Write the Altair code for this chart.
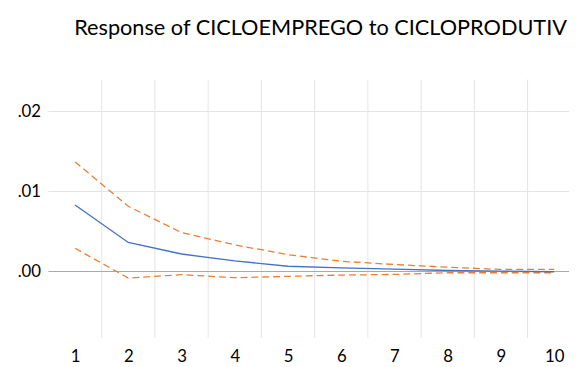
import altair as alt
import pandas as pd

steps = [1, 2, 3, 4, 5, 6, 7, 8, 9, 10]
response = [0.00832, 0.00363, 0.00218, 0.00132, 0.00065, 0.00045, 0.00030, 0.00012, 0.00005, -0.00004]
upper = [0.0137, 0.00815, 0.00486, 0.00333, 0.0021, 0.00128, 0.00087, 0.00054, 0.00025, 0.00025]
lower = [0.0029, -0.00082, -0.0004, -0.00078, -0.00061, -0.00045, -0.00037, -0.00016, -0.00016, -0.00016]
y_ticks = [0.0, 0.01, 0.02]
title_text = "Response of CICLOEMPREGO to CICLOPRODUTIV"

FONT = "Lato"
W, H = 528, 262
xdom = [0.5, 0.5 + W / 54.0]
ydom = [-0.0083, 0.024]

df = pd.DataFrame({"step": steps, "resp": response, "up": upper, "lo": lower})
bounds = pd.DataFrame({"b": [s + 0.5 for s in steps[:-1]]})
ygrid = pd.DataFrame({"v": y_ticks[1:]})
zero = pd.DataFrame({"v": [0.0]})

xscale = alt.Scale(domain=xdom, nice=False, zero=False)
yscale = alt.Scale(domain=ydom, nice=False, zero=False)

xaxis = alt.Axis(values=steps, grid=False, ticks=False, domain=False, labelFont=FONT,
                 labelFontSize=17, labelColor="#000000", labelPadding=11, title=None,
                 labelFlush=False, labelOverlap=False)
yaxis = alt.Axis(values=y_ticks, grid=False, ticks=False, domain=False, labelFont=FONT,
                 labelFontSize=17, labelColor="#000000", labelPadding=8, title=None,
                 labelExpr="substring(format(datum.value, '.2f'), 1)")

vgrid = alt.Chart(bounds).mark_rule(color="#e4e4e4", strokeWidth=1).encode(
    x=alt.X("b:Q", scale=xscale, axis=xaxis),
    y=alt.value(0), y2=alt.value(H))

hgrid = alt.Chart(ygrid).mark_rule(color="#e4e4e4", strokeWidth=1).encode(
    y=alt.Y("v:Q", scale=yscale, axis=yaxis),
    x=alt.value(0), x2=alt.value(W))

zline = alt.Chart(zero).mark_rule(color="#a9a9a9", strokeWidth=1.2).encode(
    y=alt.Y("v:Q", scale=yscale, axis=yaxis),
    x=alt.value(0), x2=alt.value(W))

base = alt.Chart(df)
up_line = base.mark_line(color="#ED7D31", strokeWidth=1.3, strokeDash=[7, 4], clip=True).encode(
    x=alt.X("step:Q", scale=xscale, axis=xaxis),
    y=alt.Y("up:Q", scale=yscale, axis=yaxis))
lo_line = base.mark_line(color="#ED7D31", strokeWidth=1.3, strokeDash=[7, 4], clip=True).encode(
    x=alt.X("step:Q", scale=xscale, axis=xaxis),
    y=alt.Y("lo:Q", scale=yscale, axis=yaxis))
resp_line = base.mark_line(color="#4472C4", strokeWidth=1.4, clip=True).encode(
    x=alt.X("step:Q", scale=xscale, axis=xaxis),
    y=alt.Y("resp:Q", scale=yscale, axis=yaxis))

chart = alt.layer(vgrid, hgrid, zline, up_line, lo_line, resp_line).properties(
    width=W, height=H,
    title=alt.TitleParams(title_text, font=FONT, fontSize=22, fontWeight="normal",
                          color="#000000", anchor="middle", dx=12, offset=23,
                          baseline="alphabetic"),
    autosize=alt.AutoSizeParams(type="none"),
    padding={"left": 41, "top": 70, "right": 0, "bottom": 27},
).configure_view(stroke=None)

chart.save("out.html", embed_options={"renderer": "svg", "actions": False})
